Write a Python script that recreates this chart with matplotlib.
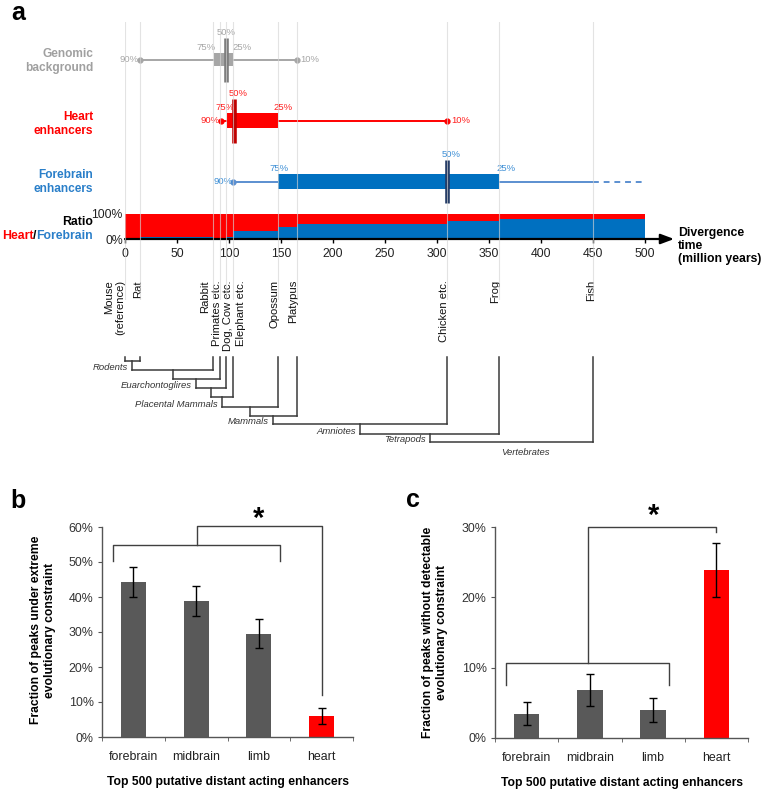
import matplotlib
matplotlib.use('Agg')
import matplotlib.pyplot as plt
import numpy as np

plt.rcParams['font.family'] = ['Liberation Sans', 'DejaVu Sans']

W, H = 764, 795

# ---------------- data: panel a ----------------
species = ['Mouse\n(reference)', 'Rat', 'Rabbit', 'Primates etc.', 'Dog, Cow etc.',
           'Elephant etc.', 'Opossum', 'Platypus', 'Chicken etc.', 'Frog', 'Fish']
div_time = [0, 14, 85, 91, 97, 104, 147, 165, 310, 360, 450]
clades = ['Rodents', None, 'Euarchontoglires', None, 'Placental Mammals', None,
          'Mammals', 'Amniotes', 'Tetrapods', 'Vertebrates']

box_groups = ['Genomic\nbackground', 'Heart\nenhancers', 'Forebrain\nenhancers']
q90 = [14, 92, 104]
q75 = [86, 98, 147]
q50 = [97, 105, 310]
q25 = [104, 147, 360]
q10 = [165, 310, np.nan]   # forebrain 10% lies beyond the fish divergence

ratio_edges = [0, 14, 85, 91, 97, 104, 147, 165, 310, 360, 500]
forebrain_frac = [0.0, 0.08, 0.0, 0.04, 0.10, 0.32, 0.49, 0.62, 0.71, 0.82]
div_ticks = list(range(0, 501, 50))

# ---------------- data: panels b, c ----------------
tissues = ['forebrain', 'midbrain', 'limb', 'heart']
extreme = [44.3, 38.9, 29.5, 6.0]
extreme_err = [4.4, 4.3, 4.2, 2.3]
nodetect = [3.46, 6.87, 4.03, 23.9]
nodetect_err = [1.6, 2.25, 1.7, 3.8]

# ---------------- styles ----------------
RED = '#ff0000'
BLUE = '#0070c0'
box_col = ['#a6a6a6', '#ff0000', '#0070c0']
whisk_col = ['#a6a6a6', '#ff0000', '#5b8fd0']
med_col = ['#7a7a7a', '#c00000', '#203864']
txt_col = ['#a6a6a6', '#ff2020', '#3d8fd6']
lab_col = ['#a0a0a0', '#ff0000', '#2a7fc9']
box_h = [0.22, 0.26, 0.26]
lab75_dx = [-8, -2, 1]
lab25_dx = [9, 5, 7]
lab50_dx = [0, 4, 4]
label_dx_px = [-10.5, -1, -8.5, -2.5, 2.5, 7.5, -3, -3, -3, -4, -2]
leaf_top = 357
merge_levels = [361, 370, 379, 388, 397, 407, 416, 424, 434, 442]

fig = plt.figure(figsize=(W / 100, H / 100), dpi=100)


def R(l, t, r, b):
    return [l / W, 1 - b / H, (r - l) / W, (b - t) / H]


def fx(x):
    return x / W


def fy(y):
    return 1 - y / H


PT = 0.72  # points per pixel

# ---------------- panel a: box rows ----------------
ax_box = fig.add_axes(R(125, 20, 645, 212))
ax_box.set_xlim(0, 500)
ax_box.set_ylim(2.5, -0.65)
ax_box.axis('off')
ax_box.patch.set_alpha(0)
for r in range(3):
    c = whisk_col[r]
    hi = q10[r] if not np.isnan(q10[r]) else div_time[-1]
    ax_box.plot([q90[r], hi], [r, r], color=c, lw=1.4, solid_capstyle='butt', zorder=1)
    if np.isnan(q10[r]):
        ax_box.plot([div_time[-1], 500], [r, r], color=c, lw=1.4, ls=(0, (3, 2.5)), zorder=1)
        ax_box.plot([q90[r]], [r], 'o', color=c, ms=3.5, zorder=2)
    else:
        ax_box.plot([q90[r], q10[r]], [r, r], 'o', color=c, ms=3.5, zorder=2)
    ax_box.barh(r, q25[r] - q75[r], left=q75[r], height=box_h[r], color=box_col[r], zorder=2)
    ax_box.vlines(q50[r], r - 0.36, r + 0.36, color=med_col[r], lw=3.3, zorder=3)
    fs = 6.8
    ax_box.annotate('50%', (q50[r], r - 0.36), xytext=(lab50_dx[r] * PT, 0.5), textcoords='offset points',
                    ha='center', va='bottom', fontsize=fs, color=txt_col[r])
    ax_box.annotate('75%', (q75[r], r - box_h[r] / 2), xytext=(lab75_dx[r] * PT, 0.5), textcoords='offset points',
                    ha='center', va='bottom', fontsize=fs, color=txt_col[r])
    ax_box.annotate('25%', (q25[r], r - box_h[r] / 2), xytext=(lab25_dx[r] * PT, 0.5), textcoords='offset points',
                    ha='center', va='bottom', fontsize=fs, color=txt_col[r])
    ax_box.annotate('90%', (q90[r], r), xytext=(-0.5, 0), textcoords='offset points',
                    ha='right', va='center', fontsize=fs, color=txt_col[r])
    if not np.isnan(q10[r]):
        ax_box.annotate('10%', (q10[r], r), xytext=(3, 0), textcoords='offset points',
                        ha='left', va='center', fontsize=fs, color=txt_col[r])

for r, (g, yc) in enumerate(zip(box_groups, [61, 124, 182])):
    fig.text(fx(93), fy(yc), g, ha='right', va='center', fontsize=8.6, fontweight='bold',
             color=lab_col[r], linespacing=1.2)

# ---------------- panel a: ratio strip ----------------
ax_ratio = fig.add_axes(R(125, 214, 645, 239))
ax_ratio.set_xlim(0, 500)
ax_ratio.set_ylim(0, 1)
ax_ratio.stairs(np.ones(len(forebrain_frac)), ratio_edges, fill=True, color=RED, zorder=1)
ax_ratio.stairs(forebrain_frac, ratio_edges, fill=True, color=BLUE, zorder=2)
for s in ax_ratio.spines.values():
    s.set_visible(False)
ax_ratio.annotate('', xy=(1.056, 0), xytext=(0, 0), xycoords='axes fraction',
                  arrowprops=dict(arrowstyle='-|>,head_length=0.8,head_width=0.3', color='black', lw=1.6,
                                  shrinkA=0, shrinkB=0))
ax_ratio.set_xticks(div_ticks)
ax_ratio.tick_params(axis='x', length=3.2, width=1, color='black', labelsize=8.8, pad=3, labelcolor='#222')
ax_ratio.set_yticks([0, 1])
ax_ratio.set_yticklabels(['0%', '100%'])
ax_ratio.tick_params(axis='y', length=0, labelsize=8.8, pad=1.5, labelcolor='#222')
ax_ratio.patch.set_alpha(0)

fig.text(fx(93), fy(222), 'Ratio', ha='right', va='center', fontsize=8.8, fontweight='bold', color='black')
fig.canvas.draw()
rend = fig.canvas.get_renderer()
xr = 93
for word, col in [('Forebrain', '#2a7fc9'), ('/', 'black'), ('Heart', RED)]:
    t = fig.text(fx(xr), fy(236), word, ha='right', va='center', fontsize=8.8, fontweight='bold', color=col)
    bb = t.get_window_extent(renderer=rend)
    xr = bb.x0 + 0.3

fig.text(fx(678), fy(246), 'Divergence\ntime\n(million years)', ha='left', va='center',
         fontsize=8.8, fontweight='bold', color='black', linespacing=1.12)

# ---------------- panel a: species + dendrogram ----------------
ax_tree = fig.add_axes(R(125, 270, 645, 470))
ax_tree.set_xlim(0, 500)
ax_tree.set_ylim(470, 270)
ax_tree.axis('off')
ax_tree.patch.set_alpha(0)
for name, t, dx in zip(species, div_time, label_dx_px):
    ax_tree.annotate(name, (t, 280), xytext=(dx * PT, 0), textcoords='offset points', rotation=90,
                     ha='center', va='top', fontsize=8.1, color='#111', multialignment='right',
                     linespacing=1.2)

LC = '#3a3a3a'
LW = 1.1
ax_tree.plot([div_time[0], div_time[0]], [leaf_top, merge_levels[0]], color=LC, lw=LW, clip_on=False)
node_x = div_time[0]
for i in range(1, len(div_time)):
    lev = merge_levels[i - 1]
    ax_tree.plot([div_time[i], div_time[i]], [leaf_top, lev], color=LC, lw=LW, clip_on=False)
    ax_tree.plot([node_x, div_time[i]], [lev, lev], color=LC, lw=LW, clip_on=False)
    node_x = (node_x + div_time[i]) / 2
    name = clades[i - 1]
    if i < len(div_time) - 1:
        nxt = merge_levels[i]
        ax_tree.plot([node_x, node_x], [lev, nxt], color=LC, lw=LW, clip_on=False)
        if name:
            ax_tree.annotate(name, (node_x, nxt), xytext=(-3, 1.5), textcoords='offset points',
                             ha='right', va='center', fontsize=6.8, style='italic', color='#333')
    else:
        if name:
            ax_tree.annotate(name, (node_x, lev), xytext=(10, -7.5), textcoords='offset points',
                             ha='center', va='center', fontsize=6.8, style='italic', color='#333')

# ---------------- panel a: faint gridlines ----------------
ax_grid = fig.add_axes(R(125, 22, 645, 300))
ax_grid.set_xlim(0, 500)
ax_grid.set_ylim(0, 1)
ax_grid.axis('off')
ax_grid.patch.set_alpha(0)
for t in div_time:
    ax_grid.axvline(t, color='#d4d4d4', lw=0.8, alpha=0.65)

fig.text(fx(11), fy(20), 'a', ha='left', va='baseline', fontsize=18, fontweight='bold')


# ---------------- panels b, c ----------------
def bar_panel(rect, vals, errs, ymax, step):
    ax = fig.add_axes(rect)
    x = np.arange(len(tissues))
    colors = ['#595959'] * (len(tissues) - 1) + [RED]
    ax.bar(x, vals, width=0.4, color=colors, zorder=2)
    ax.errorbar(x, vals, yerr=errs, fmt='none', ecolor='black', elinewidth=1, capsize=2.6,
                capthick=1, zorder=3)
    ax.set_xlim(-0.5, len(tissues) - 0.5)
    ax.set_ylim(0, ymax)
    yt = np.arange(0, ymax + 0.01, step)
    ax.set_yticks(yt)
    ax.set_yticklabels([f'{v:.0f}%' for v in yt])
    ax.set_xticks(x)
    ax.set_xticklabels(tissues)
    ax.set_xticks(np.arange(-0.5, len(tissues)), minor=True)
    for s in ['top', 'right']:
        ax.spines[s].set_visible(False)
    for s in ['left', 'bottom']:
        ax.spines[s].set_color('#555555')
        ax.spines[s].set_linewidth(1)
    ax.tick_params(axis='y', length=3, color='#555555', labelsize=8.9, labelcolor='#333', pad=3)
    ax.tick_params(axis='x', which='major', length=0, labelsize=8.9, labelcolor='#222', pad=10)
    ax.tick_params(axis='x', which='minor', length=3, color='#555555')
    ax.patch.set_alpha(0)
    return ax


axb = bar_panel(R(102, 527, 353, 737), extreme, extreme_err, 60, 10)
BC = '#404040'
axb.plot([-0.325, -0.325, 2.34, 2.34], [50.3, 54.9, 54.9, 50.3], color=BC, lw=1, clip_on=False)
axb.plot([1.01, 1.01, 3.0, 3.0], [54.9, 60.3, 60.3, 12], color=BC, lw=1, clip_on=False)
axb.text(2.0, 62.3, '*', ha='center', va='center', fontsize=21, fontweight='bold', clip_on=False)
fig.text(fx(43), fy(630), 'Fraction of peaks under extreme\nevolutionary constraint', rotation=90,
         ha='center', va='center', fontsize=8.7, fontweight='bold', linespacing=1.15)
fig.text(fx(228), fy(782), 'Top 500 putative distant acting enhancers', ha='center', va='center',
         fontsize=8.7, fontweight='bold')
fig.text(fx(10), fy(508), 'b', ha='left', va='baseline', fontsize=18, fontweight='bold')

axc = bar_panel(R(495, 527, 748, 738), nodetect, nodetect_err, 30, 10)
axc.plot([-0.33, -0.33, 2.25, 2.25], [7.5, 10.67, 10.67, 7.5], color=BC, lw=1, clip_on=False)
axc.plot([0.97, 0.97, 3.0, 3.0], [10.67, 30, 30, 29.3], color=BC, lw=1, clip_on=False)
axc.text(2.0, 31.6, '*', ha='center', va='center', fontsize=21, fontweight='bold', clip_on=False)
fig.text(fx(435), fy(632), 'Fraction of peaks without detectable\nevolutionary constraint', rotation=90,
         ha='center', va='center', fontsize=8.7, fontweight='bold', linespacing=1.15)
fig.text(fx(622), fy(783), 'Top 500 putative distant acting enhancers', ha='center', va='center',
         fontsize=8.7, fontweight='bold')
fig.text(fx(406), fy(507), 'c', ha='left', va='baseline', fontsize=18, fontweight='bold')

fig.savefig('out.png', dpi=100)
